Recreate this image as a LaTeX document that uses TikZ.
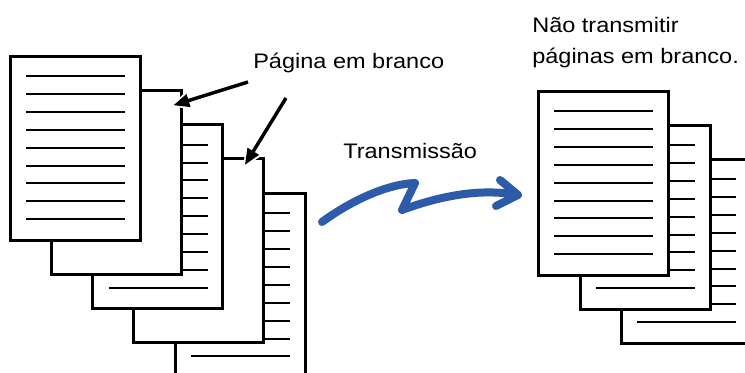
\documentclass[tikz,border=0pt]{standalone}
\usepackage{fontspec}
\setmainfont{Liberation Sans}[FakeStretch=1.12]
\usetikzlibrary{arrows.meta,calc}
\definecolor{arrowblue}{HTML}{2B5BA9}
\tikzset{
  pagebox/.style={draw=black, fill=white, line width=2.25pt, rectangle, inner sep=0pt, outer sep=0pt,
    minimum width=97.5pt, minimum height=138pt, anchor=north west},
  txtline/.style={draw=black, line width=1.5pt},
  lbl/.style={inner sep=0pt, anchor=base west, font=\fontsize{15.75pt}{23.25pt}\selectfont},
  pointer/.style={draw=black, line width=2.6pt, -{Triangle[length=12pt,width=9.5pt]}},
  halo/.style={draw=white, line width=6pt, -{Triangle[length=17pt,width=15pt]}, shorten >=-2.5pt},
  transmit/.style={draw=arrowblue, line width=6pt, line cap=round, line join=round},
}
\newcommand{\lined}[1]{%
  \foreach \k in {0,...,8}{
    \draw[txtline] ($(#1.north west)+(16,20+17.9*\k)$) -- ($(#1.north east)+(-15,20+17.9*\k)$);
  }}
\begin{document}
\begin{tikzpicture}[x=0.75pt,y=-0.75pt]
\useasboundingbox (0,0) rectangle (745,372);
\clip (0,0) rectangle (745,372);
\fill[white] (0,0) rectangle (745,372);
% left stack (back to front)
\node[pagebox] (L5) at (175.2,193.2) {}; \lined{L5}
\node[pagebox] (L4) at (133.9,158.9) {};
\node[pagebox] (L3) at (92.6,124.6) {}; \lined{L3}
\node[pagebox] (L2) at (51.3,90.3) {};
\node[pagebox] (L1) at (10,56) {}; \lined{L1}
% right stack
\node[pagebox] (R3) at (621,159) {}; \lined{R3}
\node[pagebox] (R2) at (580,125) {}; \lined{R2}
\node[pagebox] (R1) at (538,91) {}; \lined{R1}
% labels
\node[lbl] (blank) at (253,68) {Página em branco};
\node[lbl] (trans) at (343,158) {Transmissão};
\node[lbl] (nao1) at (532,32) {Não transmitir};
\node[lbl] (nao2) at (532,63) {páginas em branco.};
% pointer arrows
\coordinate (t1) at (248,82);
\coordinate (h1) at ($(L2.north east)+(-8,15)$);
\coordinate (t2) at (286,98);
\coordinate (h2) at ($(L4.north west)+(111,6)$);
\draw[halo] (t1) -- (h1);
\draw[halo] (t2) -- (h2);
\draw[pointer] (t1) -- (h1);
\draw[pointer] (t2) -- (h2);
% transmission arrow
\coordinate (s) at (322,222);
\coordinate (peak) at (415,183);
\coordinate (dip) at (402,210);
\coordinate (tip) at (518,195);
\draw[transmit] (s) .. controls (352,200) and (388,184) .. (peak) -- (dip)
  .. controls (440,196) and (480,188) .. (tip);
\draw[transmit] (500,180) -- (tip) -- (496,206);
\end{tikzpicture}
\end{document}
